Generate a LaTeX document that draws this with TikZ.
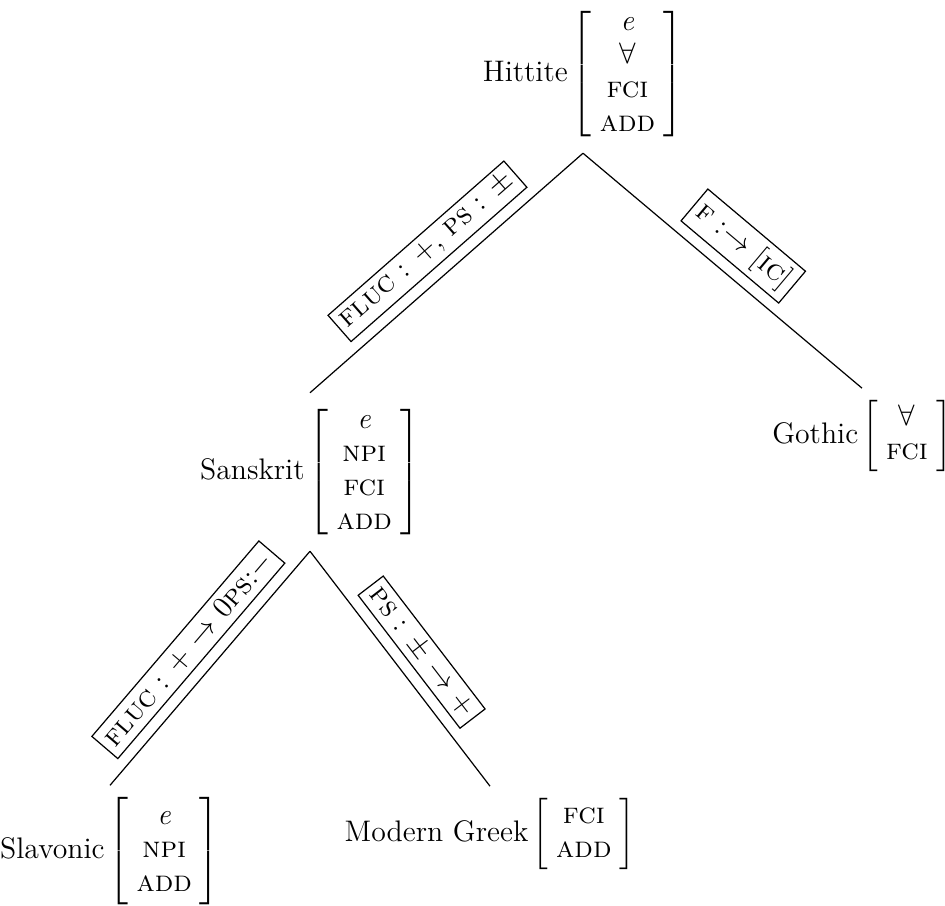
\documentclass[tikz,border=0pt]{standalone}
\usepackage{amssymb}
\newcommand\featbox[1]{\hspace{1.5pt}$\left[\renewcommand\arraystretch{0.94}\begin{tabular}{@{\hspace{3pt}}c@{\hspace{3pt}}}#1\end{tabular}\right]$}
\tikzset{
  x=0.37pt, y=-0.37pt,
  lang/.style={inner sep=0pt, outer sep=4.5pt, font=\fontsize{11}{13.2}\selectfont},
  branch/.style={line width=0.45pt},
  elabel/.style={draw, sloped, midway, above=4pt, inner sep=2.2pt,
    font=\fontsize{11}{13.2}\selectfont, line width=0.45pt}
}
\begin{document}
\begin{tikzpicture}
\useasboundingbox (0,0) rectangle (945,906);

% language nodes with their feature columns
\node[lang] (hittite)  at (583,74)  {Hittite\featbox{\textit{e}\\$\forall$\\\textsc{fci}\\\textsc{add}}};
\node[lang] (sanskrit) at (310,472) {Sanskrit\featbox{\textit{e}\\\textsc{npi}\\\textsc{fci}\\\textsc{add}}};
\node[lang] (gothic)   at (862,436) {Gothic\featbox{$\forall$\\\textsc{fci}}};
\node[lang] (slavonic) at (110,851) {Slavonic\featbox{\textit{e}\\\textsc{npi}\\\textsc{add}}};
\node[lang] (greek)    at (490,834) {Modern Greek\featbox{\textsc{fci}\\\textsc{add}}};

% branches with their change labels
\draw[branch] (hittite.south) -- (sanskrit.north)
  node[elabel] {\textsc{fluc} : +, \textsc{ps} : $\pm$};
\draw[branch] (hittite.south) -- (gothic.north)
  node[elabel] {\textsc{f} :$\rightarrow$ [\textsc{ic}]};
\draw[branch] (sanskrit.south) -- (slavonic.north)
  node[elabel] {\textsc{fluc} : + $\rightarrow$ 0\textsc{ps}:$-$};
\draw[branch] (sanskrit.south) -- (greek.north)
  node[elabel] {\textsc{ps} : $\pm$ $\rightarrow$ +};
\end{tikzpicture}
\end{document}
